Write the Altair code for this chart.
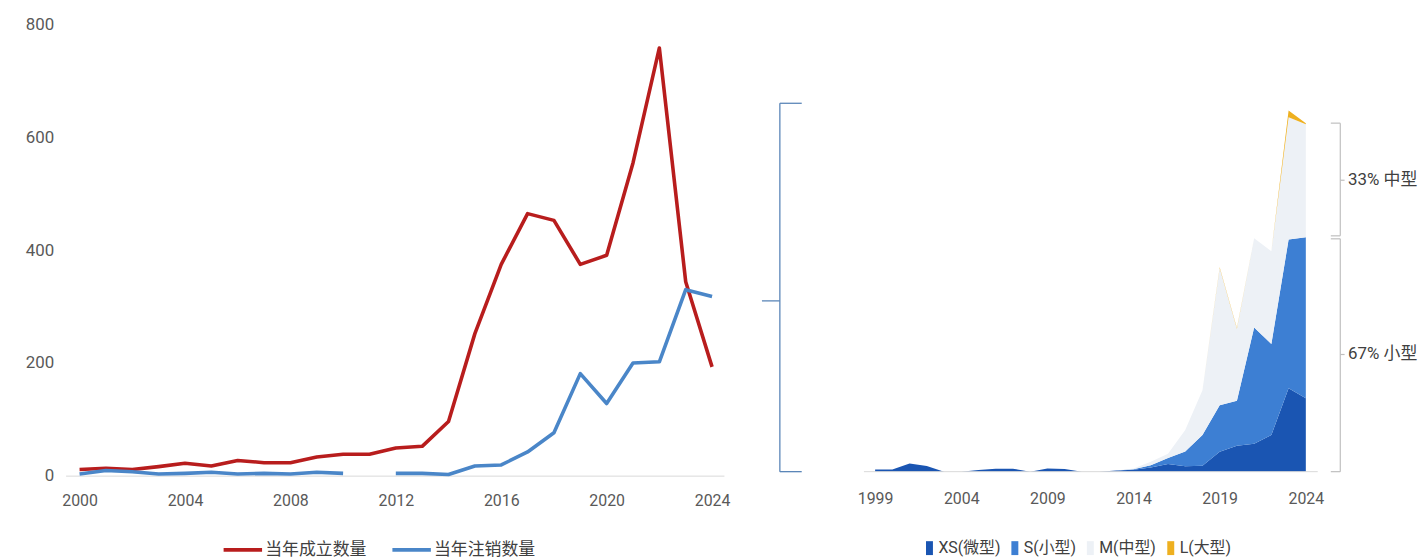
import altair as alt
import pandas as pd

# ---------------- left chart data ----------------
years_left = list(range(2000, 2025))
established = [11, 13, 11, 16, 22, 17, 27, 23, 23, 33, 38, 38, 49, 52, 96,
               252, 375, 465, 453, 375, 391, 555, 759, 344, 193]
cancelled = [3, 9, 7, 3, 4, 6, 3, 4, 3, 6, 4, None, 4, 4, 2,
             17, 19, 42, 76, 181, 128, 200, 202, 330, 318]
series_left = ["当年成立数量", "当年注销数量"]
colors_left = ["#B81D1D", "#4A86C8"]
left_x_ticks = [2000, 2004, 2008, 2012, 2016, 2020, 2024]
left_y_ticks = [0, 200, 400, 600, 800]

# ---------------- right chart data ----------------
years_right = list(range(1999, 2025))
xs_vals = [2.3, 2.3, 8.3, 5.7, 0, 0, 1.7, 3, 3, 0, 3.3, 2.7, 0, 0, 1.3, 2,
           4.3, 7.7, 5.5, 6, 20, 26, 28, 37, 84, 74]
s_vals = [0, 0, 0, 0, 0, 0, 0, 0, 0, 0, 0, 0, 0, 0, 0, 0.5,
          2.2, 6, 14.8, 31, 47, 45.3, 117.3, 91.7, 149.7, 162]
m_vals = [0, 0, 0, 0, 0, 0, 0, 0, 0, 0, 0, 0, 0, 0, 0, 0.8,
          3.5, 4.3, 21.7, 45, 138, 72.7, 89.7, 93.3, 123.3, 114]
l_vals = [0, 0, 0, 0, 0, 0, 0, 0, 0, 0, 0, 0, 0, 0, 0, 0,
          0, 0, 0, 0, 0.8, 0.8, 0, 0, 6.7, 1]
size_names = ["XS(微型)", "S(小型)", "M(中型)", "L(大型)"]
size_colors = ["#1A55B2", "#3D7FD3", "#EDF1F6", "#EEB020"]
right_x_ticks = [1999, 2004, 2009, 2014, 2019, 2024]
bracket_labels = ["33% 中型", "67% 小型"]

FONT = "Roboto, Noto Sans CJK SC, sans-serif"
TXT = "#595959"

# ---------------- left chart ----------------
rows = []
for y, v in zip(years_left, established):
    rows.append({"year": y, "series": series_left[0], "value": v, "seg": 0})
seg = 0
for y, v in zip(years_left, cancelled):
    if v is None:
        seg += 1
        continue
    rows.append({"year": y, "series": series_left[1], "value": v, "seg": 10 + seg})
df_left = pd.DataFrame(rows)

left = alt.Chart(df_left).mark_line(strokeWidth=3.6, strokeJoin="round").encode(
    x=alt.X("year:Q",
            scale=alt.Scale(domain=[1999.47, 2024.45], nice=False, zero=False),
            axis=alt.Axis(values=left_x_ticks, format="d", title=None, grid=False,
                          ticks=False, domainColor="#D9D9D9", domainWidth=1,
                          labelPadding=17, labelFontSize=16)),
    y=alt.Y("value:Q",
            scale=alt.Scale(domain=[0, 800], nice=False),
            axis=alt.Axis(values=left_y_ticks, title=None, grid=False, ticks=False,
                          domain=False, labelPadding=12, labelFontSize=17)),
    color=alt.Color("series:N",
                    scale=alt.Scale(domain=series_left, range=colors_left),
                    legend=alt.Legend(title=None, orient="none", direction="horizontal",
                                      legendX=157, legendY=507,
                                      symbolType="stroke", symbolStrokeWidth=4,
                                      symbolSize=1500, labelFontSize=17,
                                      columnPadding=18, labelOffset=1)),
    detail="seg:N",
).properties(width=663, height=454)

# ---------------- right chart ----------------
rrows = []
for i, name in enumerate(size_names):
    vals = [xs_vals, s_vals, m_vals, l_vals][i]
    for y, v in zip(years_right, vals):
        rrows.append({"year": y, "size": name, "value": v, "ord": i})
df_right = pd.DataFrame(rrows)

xscale = alt.Scale(domain=[1998.35, 2024.69], nice=False, zero=False)
yscale = alt.Scale(domain=[-4, 450], nice=False, zero=False)

area = alt.Chart(df_right).mark_area(opacity=1).encode(
    x=alt.X("year:Q", scale=xscale,
            axis=alt.Axis(values=right_x_ticks, format="d", title=None, grid=False,
                          ticks=False, domain=False, labelPadding=15, labelFontSize=16)),
    y=alt.Y("value:Q", stack="zero", scale=yscale, axis=None),
    color=alt.Color("size:N",
                    scale=alt.Scale(domain=size_names, range=size_colors),
                    legend=alt.Legend(title=None, orient="none", direction="horizontal",
                                      legendX=58, legendY=519,
                                      symbolType="M-0.5,-1L0.5,-1L0.5,1L-0.5,1Z",
                                      symbolSize=196, symbolStrokeWidth=0,
                                      labelFontSize=16, columnPadding=6,
                                      labelOffset=1)),
    order=alt.Order("ord:Q"),
)

baseline = alt.Chart(pd.DataFrame({"y": [0]})).mark_rule(
    color="#D9D9D9", strokeWidth=1).encode(
    y=alt.Y("y:Q", scale=yscale), x=alt.value(0), x2=alt.value(457))

# brackets derived from the 2024 stack
total24 = xs_vals[-1] + s_vals[-1] + m_vals[-1] + l_vals[-1]
mid24 = xs_vals[-1] + s_vals[-1]
xv, xt, xl, xtext = 2026.0, 2025.45, 2026.25, 2026.45
g = 1.5
segs = [
    (xv, xv, total24, mid24 + g), (xt, xv, total24, total24), (xt, xv, mid24 + g, mid24 + g),
    (xv, xl, (total24 + mid24) / 2, (total24 + mid24) / 2),
    (xv, xv, mid24 - g, 0), (xt, xv, mid24 - g, mid24 - g), (xt, xv, 0, 0),
    (xv, xl, mid24 / 2, mid24 / 2),
]
df_br = pd.DataFrame(segs, columns=["x", "x2", "y", "y2"])
brackets = alt.Chart(df_br).mark_rule(color="#BFBFBF", strokeWidth=1.2).encode(
    x=alt.X("x:Q", scale=xscale), x2="x2:Q",
    y=alt.Y("y:Q", scale=yscale), y2="y2:Q")

df_lab = pd.DataFrame({"x": [xtext, xtext],
                       "y": [(total24 + mid24) / 2, mid24 / 2],
                       "label": bracket_labels})
labels = alt.Chart(df_lab).mark_text(align="left", baseline="middle", fontSize=17,
                                     color="#404040", font=FONT).encode(
    x=alt.X("x:Q", scale=xscale), y=alt.Y("y:Q", scale=yscale), text="label:N")

# left-side bracket
lb_x, lb_xr, lb_xl = 1993.47, 1994.74, 1992.43
lsegs = [(lb_x, lb_x, 371, 0), (lb_x, lb_xr, 371, 371), (lb_x, lb_xr, 0, 0),
         (lb_xl, lb_x, 172, 172)]
df_lb = pd.DataFrame(lsegs, columns=["x", "x2", "y", "y2"])
lbracket = alt.Chart(df_lb).mark_rule(color="#5B86B8", strokeWidth=1.3).encode(
    x=alt.X("x:Q", scale=xscale), x2="x2:Q",
    y=alt.Y("y:Q", scale=yscale), y2="y2:Q")

right = alt.layer(area, baseline, brackets, labels, lbracket).properties(
    width=457, height=454)

chart = alt.hconcat(left, right, spacing=141, bounds="flush").resolve_scale(
    color="independent", x="independent", y="independent"
).resolve_legend(color="independent").properties(
    padding={"left": 17, "top": 6, "right": 0, "bottom": 0}
).configure(font=FONT).configure_view(strokeWidth=0).configure_axis(
    labelFont=FONT, labelColor=TXT
).configure_legend(labelFont=FONT, labelColor="#404040")

chart.save("out.html", embed_options={"renderer": "svg", "actions": False})
